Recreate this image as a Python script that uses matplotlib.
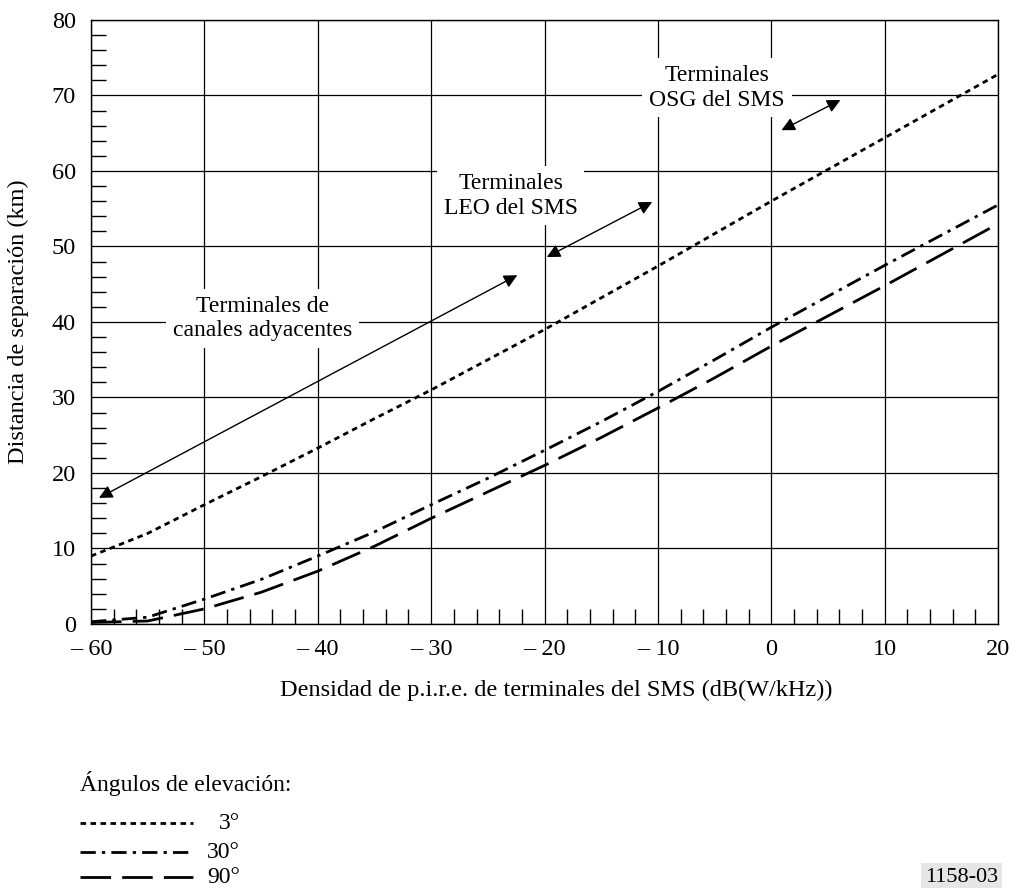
import matplotlib
matplotlib.use("Agg")
import matplotlib.pyplot as plt
from matplotlib.lines import Line2D
from matplotlib.ticker import MultipleLocator

plt.rcParams["font.family"] = ["Liberation Serif", "DejaVu Serif"]

# densidad de p.i.r.e. (dB(W/kHz))
x = [-60, -55, -50, -45, -40, -35, -30, -25, -20, -15, -10, -5, 0, 5, 10, 15, 20]

# distancia de separación (km) por ángulo de elevación
d3 = [9.0, 12.0, 15.8, 19.5, 23.3, 27.2, 31.0, 35.0, 39.0, 43.2, 47.4, 51.7, 56.0, 60.2, 64.4, 68.6, 72.8]
d30 = [0.3, 0.9, 3.3, 5.9, 9.0, 12.2, 15.8, 19.3, 23.0, 26.8, 30.8, 35.0, 39.3, 43.4, 47.5, 51.5, 55.5]
d90 = [0.2, 0.4, 2.0, 4.2, 7.0, 10.3, 14.0, 17.5, 21.0, 24.7, 28.6, 32.6, 36.8, 40.8, 44.8, 48.9, 53.0]

xticks = [-60, -50, -40, -30, -20, -10, 0, 10, 20]
xtick_labels = ["\u2013 60", "\u2013 50", "\u2013 40", "\u2013 30", "\u2013 20", "\u2013 10", "0", "10", "20"]

angles = ["3°", "30°", "90°"]
dash_styles = [(2.0, 1.6), (5.5, 2.2, 1.2, 2.2), (11, 4)]

fs = 17.5

fig = plt.figure(figsize=(10.16, 8.88), dpi=100)
ax = fig.add_axes([0.0896, 0.2973, 0.8927, 0.6802])

ax.set_xlim(-60, 20)
ax.set_ylim(0, 80)
ax.set_xticks(xticks)
ax.set_xticklabels(xtick_labels)
ax.set_yticks(range(0, 81, 10))
ax.xaxis.set_minor_locator(MultipleLocator(2))
ax.yaxis.set_minor_locator(MultipleLocator(2))
ax.tick_params(which="major", length=0, labelsize=fs)
ax.tick_params(axis="y", which="major", pad=11)
ax.tick_params(axis="x", which="major", pad=11)
ax.tick_params(which="minor", direction="in", length=11, width=1.0, color="black")
ax.grid(True, which="major", color="black", linewidth=0.9)
for s in ax.spines.values():
    s.set_linewidth(1.0)

for yy, ds in zip([d3, d30, d90], dash_styles):
    ax.plot(x, yy, color="black", lw=2.0, dashes=ds, zorder=3)

box = dict(facecolor="white", edgecolor="none", pad=5)
ax.text(-44.9, 40.5, "Terminales de\ncanales adyacentes", ha="center", va="center",
        fontsize=17, bbox=box, zorder=4, linespacing=1.2)
ax.text(-23.0, 56.7, "Terminales\nLEO del SMS", ha="center", va="center",
        fontsize=17, bbox=box, zorder=4, linespacing=1.2)
ax.text(-4.8, 71.0, "Terminales\nOSG del SMS", ha="center", va="center",
        fontsize=17, bbox=box, zorder=4, linespacing=1.2)

arrow = dict(arrowstyle="<|-|>", color="black", lw=1.0, mutation_scale=20, shrinkA=0, shrinkB=0)
ax.annotate("", xy=(-59.3, 16.7), xytext=(-22.4, 46.2), arrowprops=arrow, zorder=5)
ax.annotate("", xy=(-19.8, 48.6), xytext=(-10.5, 55.9), arrowprops=arrow, zorder=5)
ax.annotate("", xy=(0.9, 65.4), xytext=(6.1, 69.4), arrowprops=arrow, zorder=5)

fig.text(18 / 1016, 1 - 322 / 888, "Distancia de separación (km)", rotation=90,
         ha="center", va="center", fontsize=fs)
fig.text(556 / 1016, 1 - 690 / 888, "Densidad de p.i.r.e. de terminales del SMS (dB(W/kHz))",
         ha="center", va="center", fontsize=fs)

# leyenda de ángulos de elevación
fig.text(80 / 1016, 1 - 783 / 888, "Ángulos de elevación:", ha="left", va="center", fontsize=17)
for ypx, ds, lab in zip([823, 852, 877], dash_styles, angles):
    yf = 1 - ypx / 888
    ln = Line2D([80 / 1016, 193 / 1016], [yf, yf], transform=fig.transFigure,
                color="black", lw=2.0, dashes=ds)
    fig.add_artist(ln)
    fig.text(240 / 1016, yf, lab, ha="right", va="center", fontsize=17)

fig.text(998 / 1016, 1 - 877 / 888, "1158-03", ha="right", va="center", fontsize=16,
         bbox=dict(facecolor="#e6e6e6", edgecolor="none", pad=3))

fig.savefig("out.png", dpi=100)
